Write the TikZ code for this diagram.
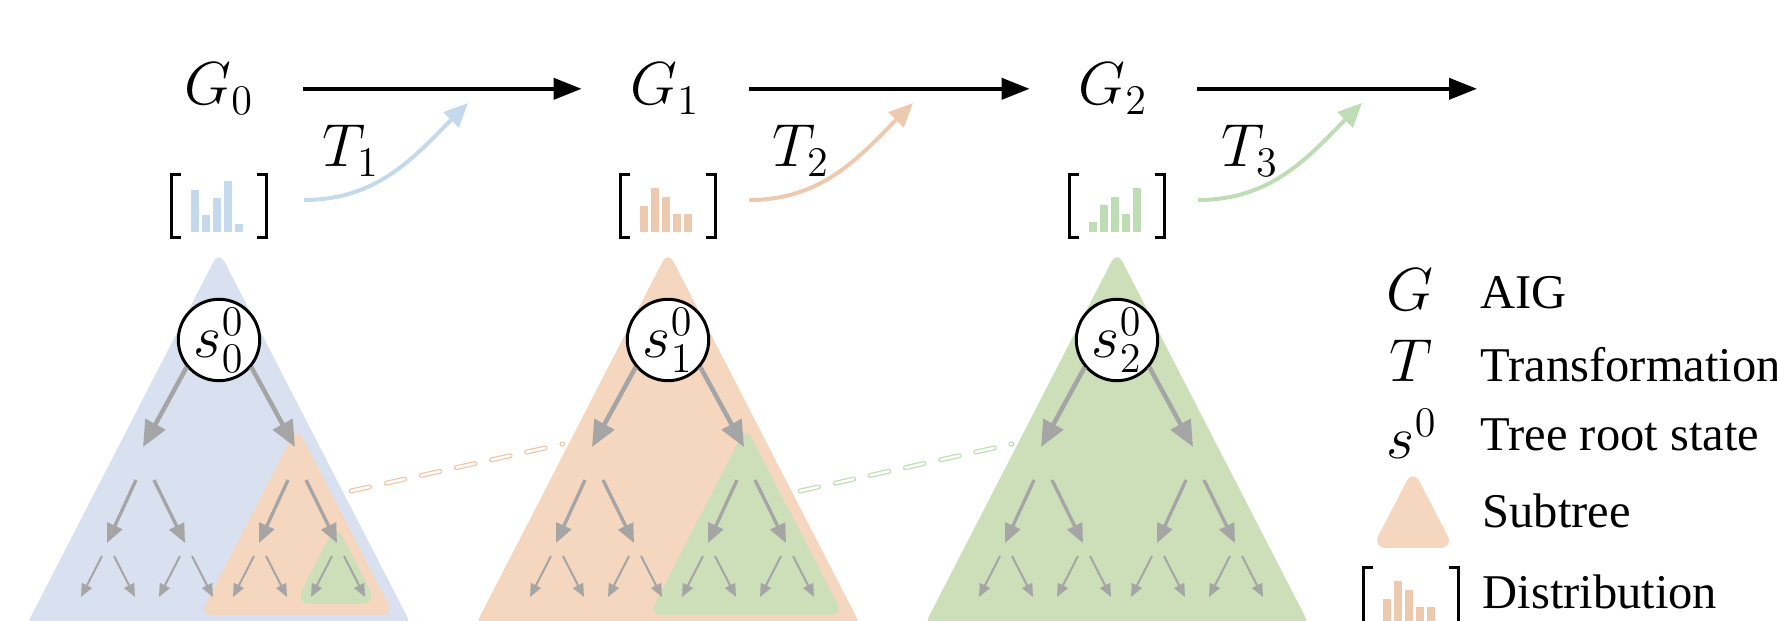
\documentclass[tikz,border=0pt]{standalone}
\usepackage[no-math]{fontspec}
\setmainfont{Liberation Serif}
\usetikzlibrary{arrows.meta,positioning,calc}
\definecolor{blueTri}{HTML}{D9E1F1}
\definecolor{blueBar}{HTML}{C5D9EC}
\definecolor{orangeTri}{HTML}{F5D6BE}
\definecolor{orangeBar}{HTML}{EDCAAF}
\definecolor{orangeLink}{HTML}{F0C4A2}
\definecolor{greenTri}{HTML}{CCDFB9}
\definecolor{greenBar}{HTML}{BFDDB4}
\definecolor{greenLink}{HTML}{BCDDAE}
\definecolor{treeGray}{HTML}{A5A5A5}
\newcommand{\distbrk}[1]{%
  \draw[brk] ([xshift=1mm]#1.north west) -- (#1.north west) -- (#1.south west) -- ([xshift=1mm]#1.south west);
  \draw[brk] ([xshift=-1mm]#1.north east) -- (#1.north east) -- (#1.south east) -- ([xshift=-1mm]#1.south east);}

\begin{document}
\begin{tikzpicture}[x=0.1mm, y=-0.1mm, >={Triangle[length=2.8mm,width=2.1mm]}]
  \tikzset{mth/.style={inner sep=0pt, anchor=base, font=\fontsize{18}{20}\selectfont},
           lgd/.style={inner sep=0pt, anchor=base west, font=\fontsize{13.8}{16}\selectfont},
           stroot/.style={circle, draw, line width=0.3mm, fill=white, minimum size=7.6mm,
                          inner sep=0pt, font=\fontsize{18}{20}\selectfont},
           dist/.style={minimum width=9.4mm, minimum height=6.2mm, inner sep=0pt},
           brk/.style={line width=0.3mm},
           flow/.style={->, line width=0.4mm, shorten <=4.9mm, shorten >=4.8mm},
           tcurve/.style={draw=#1, line width=0.4mm, -{Triangle[length=2.4mm,width=2.1mm]}},
           lvA/.style={treeGray, line width=0.45mm, -{Triangle[length=2.6mm,width=2.2mm]}},
           lvB/.style={treeGray, line width=0.33mm, -{Triangle[length=1.9mm,width=1.6mm]}},
           lvC/.style={treeGray, line width=0.2mm, -{Triangle[length=1.3mm,width=1.1mm]}},
           link/.style={draw=#1, line width=0.12mm, double=white, double distance=0.25mm,
                        dash pattern=on 1.9mm off 1.7mm, line cap=round},
           subtri/.style={fill=#1, rounded corners=1.2mm}}

  \useasboundingbox (0,0) rectangle (1777,621);
  \clip (0,0) rectangle (1777,621);

  % search trees
  \fill[subtri=blueTri]   (219,251)  -- (413,628)  -- (25,628)  -- cycle;
  \fill[subtri=orangeTri] (668,251)  -- (862,628)  -- (474,628) -- cycle;
  \fill[subtri=greenTri]  (1117,251) -- (1311,628) -- (923,628) -- cycle;

  % reused subtrees
  \fill[subtri=orangeTri] (297,427) -- (394,615) -- (200,615) -- cycle;
  \fill[subtri=greenTri, rounded corners=1.5mm] (336,524) -- (377,604) -- (295,604) -- cycle;
  \fill[subtri=greenTri]  (746,427) -- (843,615) -- (649,615) -- cycle;

  \coordinate (k0) at (351,491);
  \coordinate (k1) at (563,444);
  \coordinate (k2) at (800,491);
  \coordinate (k3) at (1012,444);
  \draw[link=orangeLink] (k0) -- (k1);
  \draw[link=greenLink] (k2) -- (k3);

  \foreach \i/\cx in {0/219,1/668,2/1117} {
    \node[stroot] (s\i) at (\cx,340) {$s^0_{\i}$};
    \foreach \a/\sa/\ang in {l/-1/-140, r/1/-40} {
      \coordinate (n\i\a) at ({\cx+\sa*76},447);
      \draw[lvA] (s\i.\ang) -- (n\i\a);
      \foreach \b/\sb in {l/-1, r/1} {
        \coordinate (n\i\a\b) at ($(n\i\a)+(\sb*39+3,96)$);
        \draw[lvB] ($(n\i\a)+(\sb*9+2,33)$) -- (n\i\a\b);
        \foreach \c/\sc in {l/-1, r/1} {
          \coordinate (n\i\a\b\c) at ($(n\i\a\b)+(\sc*27+1,54)$);
          \draw[lvC] ($(n\i\a\b)+(\sc*6+1,13)$) -- (n\i\a\b\c);
        }
      }
    }
  }

  % graph sequence
  \node[mth] (g0) at (219,105)  {$G_0$};
  \node[mth] (g1) at (665,105)  {$G_1$};
  \node[mth] (g2) at (1113,105) {$G_2$};
  \coordinate (g3) at ($(g2)+(364,0)$);
  \draw[flow] (g0) -- (g1);
  \draw[flow] (g1) -- (g2);
  \draw[flow, shorten >=0pt] (g2) -- (g3);

  % distributions and transformations
  \node[dist] (p0) at (219,206)  {};
  \node[dist] (p1) at (668,206)  {};
  \node[dist] (p2) at (1117,206) {};
  \node[dist] (pl) at (1411,599) {};
  \foreach \p in {p0,p1,p2,pl} {\distbrk{\p}}
  \foreach \p/\col/\hs in {p0/blueBar/{42,17,34,51,8}, p1/orangeBar/{26,44,35,18,18},
                           p2/greenBar/{10,27,35,18,44}, pl/orangeBar/{26,44,35,18,18}} {
    \foreach \h [count=\k] in \hs
      \fill[\col] ($(\p.south west)+(9+\k*11,-6)$) rectangle ++(8,-\h);
  }

  \coordinate (q0) at (304,200);  \coordinate (e0) at ($(q0)+(164,-97)$);
  \coordinate (q1) at (749,200);  \coordinate (e1) at ($(q1)+(164,-97)$);
  \coordinate (q2) at (1198,200); \coordinate (e2) at ($(q2)+(164,-97)$);
  \draw[tcurve=blueBar]   (q0) to[out=0, in=-135] (e0);
  \draw[tcurve=orangeBar] (q1) to[out=0, in=-135] (e1);
  \draw[tcurve=greenBar]  (q2) to[out=0, in=-135] (e2);
  \node[mth] (t1) at (351,167)  {$T_1$};
  \node[mth] (t2) at (801,167)  {$T_2$};
  \node[mth] (t3) at (1250,167) {$T_3$};

  % legend
  \node[mth] (lg) at (1410,311) {$G$};
  \node[lgd] (lgt) at (1480,309) {AIG};
  \node[mth] (lt) at (1411,382) {$T$};
  \node[lgd] (ltt) at (1480,382) {Transformation};
  \node[mth] (ls) at (1412,459) {$s^0$};
  \node[lgd] (lst) at (1480,451) {Tree root state};
  \fill[subtri=orangeTri, rounded corners=1.4mm] (1413,469) -- (1454,548) -- (1372,548) -- cycle;
  \node[lgd] (lsb) at (1482,528) {Subtree};
  \node[lgd] (ldt) at (1482,608) {Distribution};
\end{tikzpicture}
\end{document}
